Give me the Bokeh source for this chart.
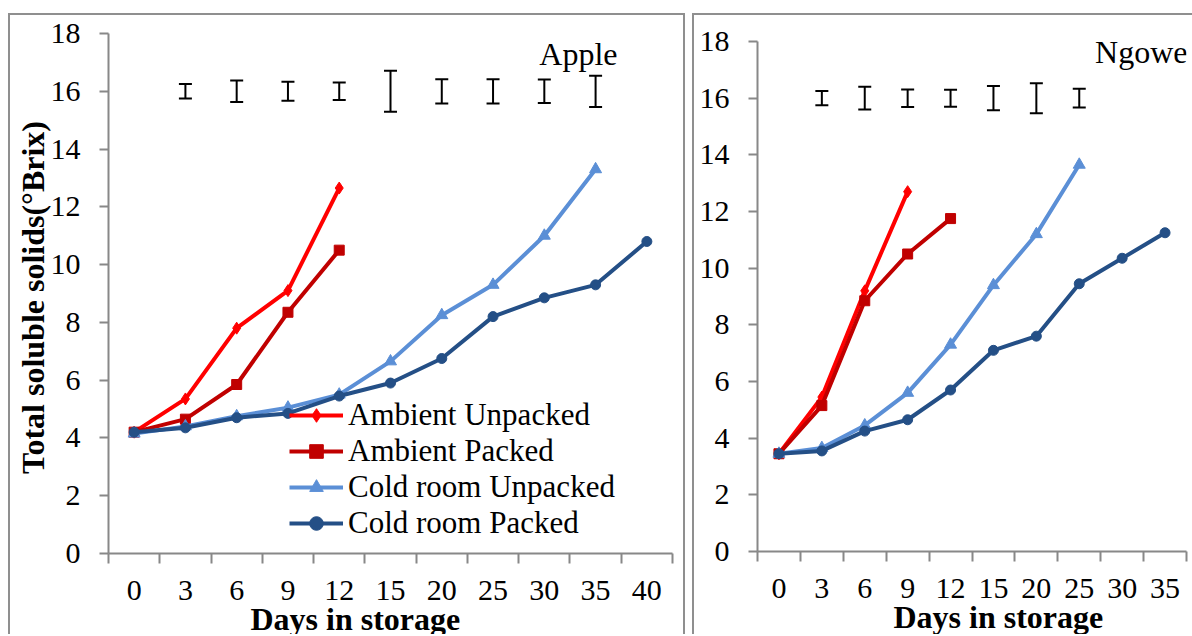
from bokeh.plotting import figure
from bokeh.models import (ColumnDataSource, FixedTicker, Legend, LegendItem,
                          Label, Whisker, TeeHead, Range1d, Title, Div)
from bokeh.layouts import row, column
from bokeh.embed import file_html
from bokeh.resources import INLINE

# ---------------- data ----------------
series_names = ["Ambient Unpacked", "Ambient Packed", "Cold room Unpacked", "Cold room Packed"]
series_colors = ["#FF0000", "#C00000", "#5B8FD6", "#244F86"]
series_markers = ["diamond", "square", "triangle", "circle"]

apple_days = ["0", "3", "6", "9", "12", "15", "20", "25", "30", "35", "40"]
apple_amb_unpacked = [4.2, 5.35, 7.8, 9.1, 12.65]
apple_amb_packed = [4.2, 4.65, 5.85, 8.35, 10.5]
apple_cold_unpacked = [4.15, 4.4, 4.75, 5.05, 5.5, 6.65, 8.25, 9.3, 11.0, 13.3]
apple_cold_packed = [4.2, 4.35, 4.7, 4.85, 5.45, 5.9, 6.75, 8.2, 8.85, 9.3, 10.8]
apple_err_days = ["3", "6", "9", "12", "15", "20", "25", "30", "35"]
apple_err_half = [0.25, 0.37, 0.33, 0.3, 0.71, 0.42, 0.42, 0.41, 0.54]

ngowe_days = ["0", "3", "6", "9", "12", "15", "20", "25", "30", "35"]
ngowe_amb_unpacked = [3.45, 5.45, 9.2, 12.7]
ngowe_amb_packed = [3.45, 5.15, 8.85, 10.5, 11.75]
ngowe_cold_unpacked = [3.45, 3.65, 4.45, 5.6, 7.3, 9.4, 11.2, 13.65]
ngowe_cold_packed = [3.45, 3.55, 4.25, 4.65, 5.7, 7.1, 7.6, 9.45, 10.35, 11.25]
ngowe_err_days = ["3", "6", "9", "12", "15", "20", "25"]
ngowe_err_half = [0.25, 0.4, 0.31, 0.3, 0.43, 0.53, 0.33]

err_center = 16.0
y_ticks = [0, 2, 4, 6, 8, 10, 12, 14, 16, 18]

FONT = "Liberation Serif"
TICK_FONT = "Times New Roman"
AXIS_GRAY = "#888888"
PANEL_GRAY = "2px solid #8f8f8f"


def make_panel(days, series, err_days, err_half, name, width, height, borders,
               name_pos, xlabel_offset, ylabel, show_legend):
    left, right, top, bottom = borders
    n = len(days)
    p = figure(width=width, height=height, output_backend="svg", toolbar_location=None,
               x_range=Range1d(-0.5, n - 0.5), y_range=Range1d(0, 18),
               min_border_left=left, min_border_right=right,
               min_border_top=top, min_border_bottom=bottom)
    p.title = None
    p.grid.visible = False
    p.outline_line_color = None
    p.background_fill_color = "white"
    p.border_fill_color = "white"

    # x axis: labels at centres, ticks at category boundaries
    xa = p.xaxis[0]
    xa.ticker = FixedTicker(ticks=list(range(n)),
                            minor_ticks=[i - 0.5 for i in range(n + 1)])
    xa.major_label_overrides = {i: d for i, d in enumerate(days)}
    xa.major_tick_out = 0
    xa.major_tick_in = 0
    xa.minor_tick_out = 10
    xa.minor_tick_in = 0
    xa.minor_tick_line_color = AXIS_GRAY
    xa.minor_tick_line_width = 2
    xa.axis_line_color = AXIS_GRAY
    xa.axis_line_width = 2
    xa.major_label_standoff = 17

    ya = p.yaxis[0]
    ya.ticker = FixedTicker(ticks=y_ticks, minor_ticks=[])
    ya.major_tick_out = 9
    ya.major_tick_in = 0
    ya.major_tick_line_color = AXIS_GRAY
    ya.major_tick_line_width = 2
    ya.axis_line_color = AXIS_GRAY
    ya.axis_line_width = 2
    ya.major_label_standoff = 19

    p.axis.major_label_text_font = TICK_FONT
    p.axis.major_label_text_font_size = "30px"
    p.axis.major_label_text_color = "black"

    if ylabel:
        ya.axis_label = ylabel
        ya.axis_label_text_font = FONT
        ya.axis_label_text_font_style = "bold"
        ya.axis_label_text_font_size = "32px"
        ya.axis_label_text_color = "black"
        ya.axis_label_standoff = -3

    items = []
    for (vals, nm, col, mk) in zip(series, series_names, series_colors, series_markers):
        xs = list(range(len(vals)))
        src = ColumnDataSource(dict(x=xs, y=vals))
        lr = p.line("x", "y", source=src, line_color=col, line_width=4)
        msize = 12 if mk in ("diamond", "triangle") else 10
        mr = p.scatter("x", "y", source=src, marker=mk, size=msize,
                       fill_color=col, line_color=col)
        items.append(LegendItem(label=nm, renderers=[lr, mr]))

    # error bars
    ex = [days.index(d) for d in err_days]
    esrc = ColumnDataSource(dict(x=ex,
                                 upper=[err_center + h for h in err_half],
                                 lower=[err_center - h for h in err_half]))
    w = Whisker(base="x", upper="upper", lower="lower", source=esrc, dimension="height",
                line_color="black", line_width=2,
                upper_head=TeeHead(size=13, line_width=2, line_color="black"),
                lower_head=TeeHead(size=13, line_width=2, line_color="black"))
    p.add_layout(w)

    # panel name
    p.add_layout(Label(x=name_pos[0], y=name_pos[1], x_units="screen", y_units="screen",
                       text=name, text_font=FONT, text_font_size="32px",
                       text_color="black", text_align="right",
                       text_baseline="alphabetic"))
    # x axis title
    p.add_layout(Title(text="Days in storage", align="left", offset=xlabel_offset,
                       vertical_align="top", standoff=-4,
                       text_font=FONT, text_font_size="32px", text_font_style="bold",
                       text_color="black"), "below")

    if show_legend:
        lg = Legend(items=items, location=(181, 12), orientation="vertical",
                    glyph_width=54, glyph_height=34, label_height=34, spacing=0,
                    padding=0, margin=0, label_standoff=5,
                    label_text_font=FONT, label_text_font_size="31px",
                    label_text_color="black", border_line_color=None,
                    background_fill_alpha=0)
        p.add_layout(lg, "center")
    return p


p1 = make_panel(apple_days,
                [apple_amb_unpacked, apple_amb_packed, apple_cold_unpacked, apple_cold_packed],
                apple_err_days, apple_err_half, "Apple", 677, 621, (98, 15, 18, 83),
                (509, 500), 142, "Total  soluble solids(°Brix)", True)
p1.styles = {"border-left": PANEL_GRAY, "border-top": PANEL_GRAY,
             "border-right": PANEL_GRAY, "box-sizing": "border-box"}
p1.margin = (13, 0, 0, 8)

p2 = make_panel(ngowe_days,
                [ngowe_amb_unpacked, ngowe_amb_packed, ngowe_cold_unpacked, ngowe_cold_packed],
                ngowe_err_days, ngowe_err_half, "Ngowe", 498, 611, (63, 6, 18, 82),
                (430, 500), 136, None, False)
p2.styles = {"border-left": PANEL_GRAY, "box-sizing": "border-box"}
p2.margin = 0

top_edge = Div(text="", width=500, height=10, margin=0,
               styles={"border-top": PANEL_GRAY, "border-left": PANEL_GRAY,
                       "box-sizing": "border-box"})
right_col = column(top_edge, p2, spacing=0)
right_col.margin = (13, 0, 0, 7)

layout = row(p1, right_col, spacing=0)
open("out.html", "w").write(file_html(layout, INLINE))
